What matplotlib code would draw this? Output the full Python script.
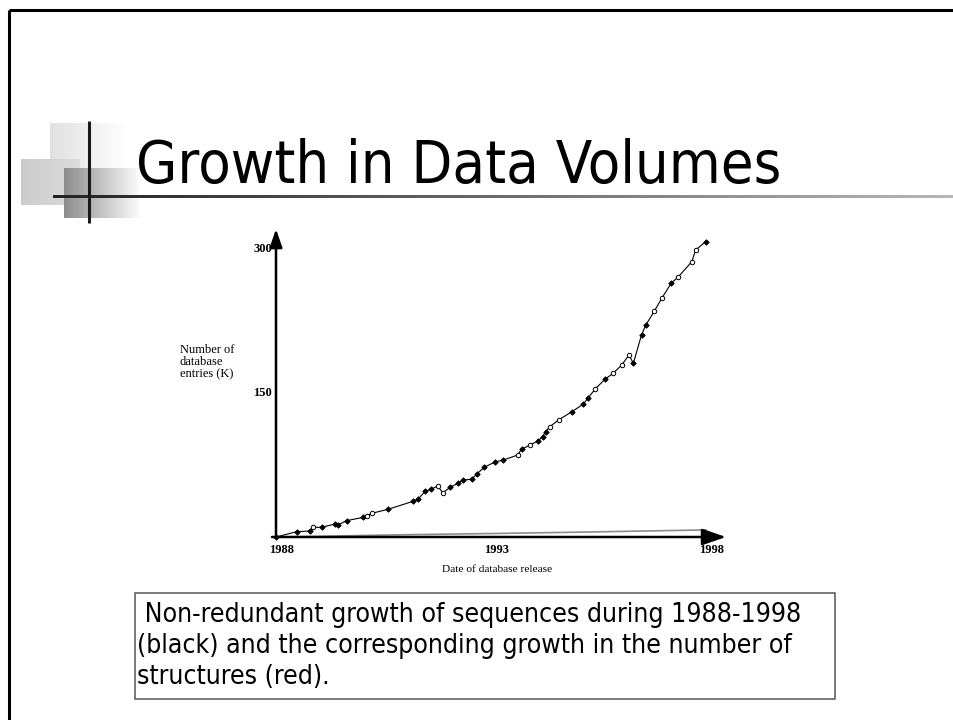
import matplotlib
matplotlib.use("Agg")
import matplotlib.pyplot as plt
import numpy as np
from matplotlib import font_manager
from matplotlib.font_manager import FontProperties
from matplotlib.patches import Rectangle

# ---------------- data ----------------
title = "Growth in Data Volumes"
caption_lines = [" Non-redundant growth of sequences during 1988-1998",
                 "(black) and the corresponding growth in the number of",
                 "structures (red)."]
x_label = "Date of database release"
y_label = "Number of\ndatabase\nentries (K)"
x_ticks = [1988, 1993, 1998]
y_ticks = [150, 300]

seq_years = [1988.00, 1988.48, 1988.79, 1988.87, 1989.06, 1989.37, 1989.45, 1989.64,
             1990.03, 1990.11, 1990.23, 1990.61, 1991.19, 1991.30, 1991.47, 1991.60,
             1991.76, 1991.88, 1992.05, 1992.23, 1992.36, 1992.55, 1992.67, 1992.84,
             1993.09, 1993.29, 1993.62, 1993.71, 1993.91, 1994.10, 1994.20, 1994.27,
             1994.37, 1994.57, 1994.88, 1995.15, 1995.25, 1995.43, 1995.65, 1995.84,
             1996.04, 1996.21, 1996.31, 1996.50, 1996.60, 1996.80, 1996.98, 1997.19,
             1997.36, 1997.67, 1997.76, 1997.99]
seq_values = [0.0, 5.5, 6.3, 10.1, 10.1, 13.5, 12.8, 17.0, 20.5, 22.2, 24.7, 28.9,
              37.2, 39.3, 47.6, 49.7, 53.1, 46.2, 51.7, 55.9, 59.4, 60.1, 65.6, 72.6,
              78.1, 80.2, 85.4, 91.4, 95.8, 100.3, 104.5, 109.7, 114.9, 121.9, 130.5,
              138.5, 144.5, 154.5, 164.3, 170.5, 179.2, 189.6, 180.9, 210.4, 220.8,
              235.4, 249.3, 264.3, 271.2, 286.8, 299.0, 307.6]
seq_hollow_idx = [3, 9, 10, 16, 17, 26, 28, 32, 33, 37, 39, 40, 41, 45, 46, 48, 49, 50]

struct_years = [1988, 1989, 1990, 1991, 1992, 1993, 1994, 1995, 1996, 1997, 1998]
struct_values = [0.0, 0.6, 1.6, 2.4, 3.0, 3.6, 4.3, 5.0, 5.8, 6.6, 7.4]

# ---------------- fonts ----------------
ttf = font_manager.fontManager.ttflist


def pick_condensed(preferred, fallback_family):
    for fam in preferred:
        for f in ttf:
            if f.name == fam and f.style == "normal" and f.weight in (400, "normal", "regular") \
                    and str(f.stretch) in ("condensed", "semi-condensed", "narrower"):
                return FontProperties(fname=f.fname)
    names = {f.name for f in ttf}
    for fam in ["Liberation Sans Narrow", "Roboto Condensed", "Open Sans Condensed"]:
        if fam in names:
            return FontProperties(family=fam)
    return FontProperties(family=fallback_family)


cap_fp = pick_condensed(["Liberation Sans", "Noto Sans", "Roboto", "Open Sans", "DejaVu Sans"],
                        "Liberation Sans")
title_fp = pick_condensed(["DejaVu Sans", "Noto Sans", "Open Sans"], "DejaVu Sans")
serif = "Liberation Serif"

# ---------------- figure ----------------
W, H, DPI = 954, 720, 100
fig = plt.figure(figsize=(W / DPI, H / DPI), dpi=DPI)
fig.patch.set_facecolor("white")

ov = fig.add_axes([0, 0, 1, 1])
ov.axis("off")


def hgrad(x0, x1, y0, y1, c0, c1, z=1):
    n = 256
    t = np.linspace(0, 1, n)
    c0 = np.array(c0, float)
    c1 = np.array(c1, float)
    img = (c0[None, :] * (1 - t[:, None]) + c1[None, :] * t[:, None])[None, :, :]
    ov.imshow(img, extent=(x0, x1, y1, y0), aspect="auto", interpolation="bilinear", zorder=z)


# slide border
ov.plot([9, W], [10, 10], color="black", lw=2.2, solid_capstyle="butt", zorder=5)
ov.plot([9.5, 9.5], [10, H], color="black", lw=2.2, solid_capstyle="butt", zorder=5)

# decorative squares
hgrad(50, 128, 123, 174, (0.88, 0.88, 0.88), (1, 1, 1), z=1)
hgrad(21, 80, 159, 205, (0.80, 0.80, 0.80), (0.86, 0.86, 0.86), z=2)
hgrad(64, 142, 168, 218, (0.55, 0.55, 0.55), (1, 1, 1), z=3)
hgrad(53, W, 195.5, 198.5, (0.13, 0.13, 0.13), (0.72, 0.72, 0.72), z=4)
ov.plot([89, 89], [121, 223], color="#1a1a1a", lw=2.2, solid_capstyle="butt", zorder=5)
ov.set_xlim(0, W)
ov.set_ylim(H, 0)

renderer = fig.canvas.get_renderer()


def fit(t, target_w):
    w = t.get_window_extent(renderer).width
    t.set_fontsize(t.get_fontsize() * target_w / w)


# title
tt = ov.text(136, 183, title, fontproperties=title_fp, color="black",
             ha="left", va="baseline", zorder=6)
tt.set_fontsize(40)
fit(tt, 644)

# caption box
ov.add_patch(Rectangle((135, 593), 700, 106, fill=False, edgecolor="#555555", lw=1.1, zorder=5))
baselines = [622, 653, 684]
cts = []
for line, yb in zip(caption_lines, baselines):
    c = ov.text(137, yb, line, fontproperties=cap_fp, color="black",
                ha="left", va="baseline", zorder=6)
    c.set_fontsize(18)
    cts.append(c)
w2 = cts[1].get_window_extent(renderer).width
scale = 655 / w2
for c in cts:
    c.set_fontsize(c.get_fontsize() * scale)

# ---------------- chart ----------------
px_per_year = 43.0
px_per_k = 0.96
x_origin, y_origin = 276.0, 537.0
bx0, bx1, by0, by1 = 262, 740, 222, 548
ax = fig.add_axes([bx0 / W, 1 - by1 / H, (bx1 - bx0) / W, (by1 - by0) / H])
ax.set_xlim(1988 + (bx0 - x_origin) / px_per_year, 1988 + (bx1 - x_origin) / px_per_year)
ax.set_ylim((y_origin - by1) / px_per_k, (y_origin - by0) / px_per_k)
ax.axis("off")
ax.patch.set_alpha(0)

ax.plot(struct_years, struct_values, color="#8c8c8c", lw=1.2, zorder=2)

y_tip = (y_origin - 229) / px_per_k
x_tip = 1988 + (726 - x_origin) / px_per_year
ax.annotate("", xy=(1988, y_tip), xytext=(1988, 0),
            arrowprops=dict(arrowstyle="-|>,head_length=1.1,head_width=0.38",
                            lw=1.8, color="black", shrinkA=0, shrinkB=0), zorder=3)
ax.annotate("", xy=(x_tip, 0), xytext=(1988 - 4 / px_per_year, 0),
            arrowprops=dict(arrowstyle="-|>,head_length=1.45,head_width=0.5",
                            lw=1.8, color="black", shrinkA=0, shrinkB=0), zorder=3)

ax.plot(seq_years, seq_values, color="black", lw=0.8, zorder=4)
filled = [i for i in range(len(seq_years)) if i not in seq_hollow_idx]
ax.plot([seq_years[i] for i in filled], [seq_values[i] for i in filled], ls="none",
        marker="D", ms=2.8, mfc="black", mec="black", mew=0.6, zorder=5)
ax.plot([seq_years[i] for i in seq_hollow_idx], [seq_values[i] for i in seq_hollow_idx],
        ls="none", marker="o", ms=3.2, mfc="white", mec="black", mew=0.7, zorder=5)

for v in y_ticks:
    ax.text(1988 - 4 / px_per_year, v, str(v), ha="right", va="center",
            family=serif, fontweight="bold", fontsize=9)
for yr in x_ticks:
    ax.text(yr + 6 / px_per_year, -13 / px_per_k, str(yr), ha="center", va="center",
            family=serif, fontweight="bold", fontsize=9)

ov.text(180, 344, y_label, ha="left", va="top", family=serif, fontsize=9,
        linespacing=1.0, zorder=6)
xl = ov.text(497, 570, x_label, ha="center", va="center", family=serif, fontsize=8.5, zorder=6)
fit(xl, 110)

fig.savefig("out.png", dpi=DPI)
